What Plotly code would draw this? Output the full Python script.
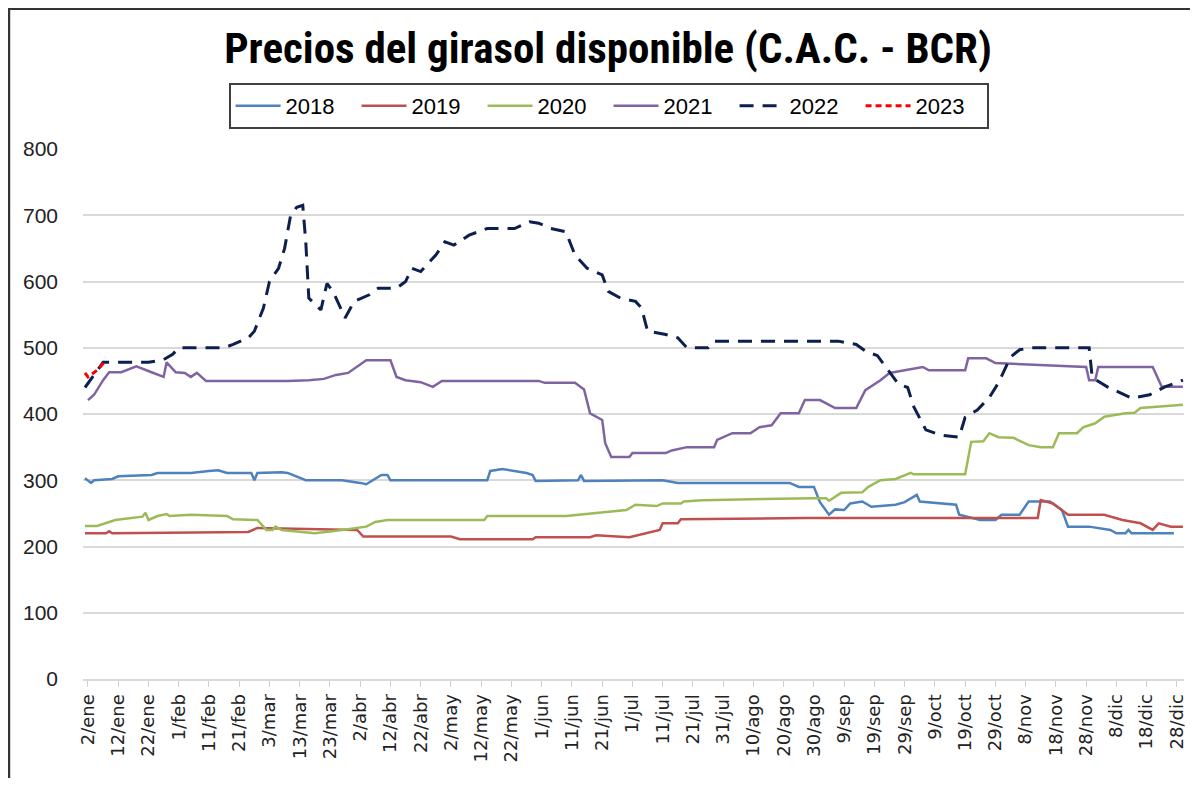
import plotly.graph_objects as go

# ---- data (day of year -> price) ----
tick_days = list(range(2, 363, 10))
tick_labels = ["2/ene", "12/ene", "22/ene", "1/feb", "11/feb", "21/feb", "3/mar", "13/mar", "23/mar",
               "2/abr", "12/abr", "22/abr", "2/may", "12/may", "22/may", "1/jun", "11/jun", "21/jun",
               "1/jul", "11/jul", "21/jul", "31/jul", "10/ago", "20/ago", "30/ago", "9/sep", "19/sep",
               "29/sep", "9/oct", "19/oct", "29/oct", "8/nov", "18/nov", "28/nov", "8/dic", "18/dic", "28/dic"]

d2018 = [1, 3, 4, 10, 12, 23, 25, 36, 42, 45, 48, 56, 57, 58, 66, 68, 74, 86, 92, 94, 99, 101, 102, 134, 135,
         139, 147, 149, 150, 164, 165, 166, 192, 197, 234, 237, 242, 244, 247, 249, 252, 254, 258, 261, 269,
         272, 276, 277, 289, 290, 297, 302, 304, 310, 313, 320, 324, 326, 333, 340, 342, 345, 346, 347, 361]
v2018 = [303, 296, 300, 302, 306, 308, 311, 311, 314, 315, 311, 311, 300, 311, 312, 311, 300, 300, 296, 294,
         308, 308, 300, 300, 314, 317, 311, 308, 299, 300, 308, 299, 300, 296, 296, 290, 290, 267, 248, 256,
         255, 265, 268, 260, 263, 267, 278, 268, 263, 248, 240, 240, 248, 248, 268, 268, 255, 230, 230, 225,
         220, 220, 225, 220, 220]

d2019 = [1, 8, 9, 10, 55, 58, 91, 93, 122, 125, 149, 150, 168, 170, 181, 186, 191, 192, 197, 198, 239, 316,
         317, 321, 324, 326, 338, 344, 350, 354, 356, 360, 364]
v2019 = [220, 220, 223, 220, 222, 228, 225, 215, 215, 211, 211, 214, 214, 217, 214, 220, 225, 235, 235, 241,
         243, 243, 270, 265, 255, 248, 248, 240, 235, 225, 235, 230, 230]

d2020 = [1, 5, 11, 16, 20, 21, 22, 25, 28, 29, 36, 48, 50, 58, 61, 63, 64, 66, 77, 86, 91, 94, 97, 101, 133,
         134, 160, 167, 173, 180, 183, 190, 192, 198, 199, 205, 242, 246, 247, 251, 258, 260, 264, 269, 274,
         275, 292, 294, 298, 300, 303, 308, 313, 317, 321, 323, 329, 331, 335, 338, 345, 348, 350, 364]
v2020 = [231, 231, 240, 243, 245, 251, 240, 246, 249, 246, 248, 246, 241, 240, 225, 225, 230, 225, 220, 225,
         228, 230, 237, 240, 240, 246, 246, 249, 251, 255, 263, 261, 265, 265, 268, 270, 273, 273, 269, 281,
         282, 290, 300, 302, 311, 309, 309, 358, 359, 371, 365, 364, 353, 350, 350, 371, 371, 380, 386, 396,
         401, 402, 409, 414]

d2021 = [2, 4, 7, 9, 13, 16, 18, 23, 27, 28, 31, 34, 36, 38, 41, 68, 75, 80, 84, 88, 93, 94, 102, 104, 107,
         112, 116, 119, 151, 153, 163, 166, 168, 172, 173, 175, 181, 182, 193, 195, 200, 209, 210, 215, 221,
         224, 228, 231, 237, 239, 244, 246, 249, 256, 259, 264, 267, 272, 278, 280, 292, 293, 299, 302, 332,
         333, 335, 336, 354, 357, 364]
v2021 = [421, 429, 451, 463, 463, 469, 472, 463, 456, 478, 463, 462, 456, 462, 450, 450, 451, 453, 459, 462,
         478, 481, 481, 456, 451, 448, 441, 450, 450, 447, 447, 437, 401, 391, 356, 335, 335, 341, 341, 345,
         350, 350, 361, 371, 371, 380, 383, 401, 401, 421, 421, 416, 409, 409, 436, 451, 462, 466, 471, 466,
         466, 484, 484, 477, 471, 451, 451, 471, 471, 441, 441]

d2022 = [1, 5, 7, 22, 27, 30, 32, 47, 50, 55, 57, 60, 62, 65, 67, 69, 71, 73, 74, 75, 79, 81, 83, 87, 90, 95,
         98, 104, 107, 109, 112, 117, 120, 123, 128, 134, 143, 148, 151, 155, 160, 163, 167, 172, 174, 178,
         183, 185, 187, 193, 197, 200, 207, 209, 250, 256, 259, 263, 266, 270, 273, 275, 279, 284, 290, 292,
         296, 300, 303, 307, 310, 314, 333, 334, 339, 347, 353, 358, 364]
v2022 = [440, 465, 478, 478, 482, 490, 500, 500, 505, 515, 525, 560, 600, 620, 650, 700, 712, 715, 660, 575,
         557, 597, 585, 545, 570, 580, 590, 590, 600, 620, 615, 640, 660, 655, 670, 680, 680, 690, 688, 680,
         675, 640, 620, 610, 585, 575, 570, 560, 525, 520, 515, 500, 500, 510, 510, 505, 495, 488, 470, 445,
         440, 411, 376, 368, 365, 395, 406, 425, 447, 486, 497, 500, 500, 455, 441, 424, 429, 441, 451]

d2023 = [1, 2, 5, 8]
v2023 = [462, 456, 466, 481]

series = [
    ("2018", d2018, v2018, "#4f81bd", "solid", 2.5),
    ("2019", d2019, v2019, "#c0504d", "solid", 2.5),
    ("2020", d2020, v2020, "#9bbb59", "solid", 2.5),
    ("2021", d2021, v2021, "#8064a2", "solid", 2.5),
    ("2022", d2022, v2022, "#0d1f4f", "14px,9px", 3),
    ("2023", d2023, v2023, "#ff0000", "6px,4px", 3),
]

fig = go.Figure()
for name, d, v, color, dash, w in series:
    assert len(d) == len(v), name
    fig.add_trace(go.Scatter(x=d, y=v, name=name, mode="lines",
                             line=dict(color=color, width=w, dash=dash)))

# page has an 8px body margin: figure origin sits at (8, 8) on screen
W, H = 1185, 770
L, T = 75, 141
R = W - L - 1104
B = H - T - 530
pw, ph = W - L - R, H - T - B

fig.update_layout(
    width=W, height=H,
    margin=dict(l=L, r=R, t=T, b=B),
    paper_bgcolor="white", plot_bgcolor="white",
    title=dict(text="<b>Precios del girasol disponible (C.A.C. - BCR)</b>",
               x=600 / W, xanchor="center", y=1 - 40 / H, yanchor="middle", yref="container",
               font=dict(family="Liberation Sans Narrow, Roboto Condensed, Arial Narrow, sans-serif",
                         size=43, color="black")),
    legend=dict(orientation="h", x=(602 - L) / pw, xanchor="center",
                y=1 + (T - 75) / ph, yanchor="top",
                bordercolor="#404040", borderwidth=2,
                font=dict(family="Liberation Sans Narrow, Arial Narrow, sans-serif", size=22, color="black"),
                entrywidth=66, entrywidthmode="pixels", itemwidth=45),
    showlegend=True,
)
fig.update_xaxes(range=[0.35, 364.35], tickmode="array", tickvals=tick_days, ticktext=tick_labels,
                 tickangle=-90, ticks="outside", ticklen=6, tickcolor="#d0d0d0",
                 showgrid=False, showline=True, linecolor="#d9d9d9", linewidth=2,
                 tickfont=dict(family="DejaVu Sans", size=18, color="#222"), zeroline=False)
fig.update_yaxes(range=[0, 800], tickmode="array", tickvals=list(range(0, 801, 100)),
                 showgrid=True, gridcolor="#d9d9d9", gridwidth=1.5, zeroline=False,
                 ticks="", ticklabelstandoff=24,
                 tickfont=dict(family="Liberation Sans", size=21, color="#222"))

# outer frame (top and left edges visible)
fig.add_shape(type="line", xref="paper", yref="paper",
              x0=-L / pw, x1=(W - L) / pw, y0=1 + T / ph, y1=1 + T / ph,
              line=dict(color="#333", width=4))
fig.add_shape(type="line", xref="paper", yref="paper",
              x0=-L / pw, x1=-L / pw, y0=-B / ph, y1=1 + T / ph,
              line=dict(color="#333", width=4))

fig.write_html("out.html")
